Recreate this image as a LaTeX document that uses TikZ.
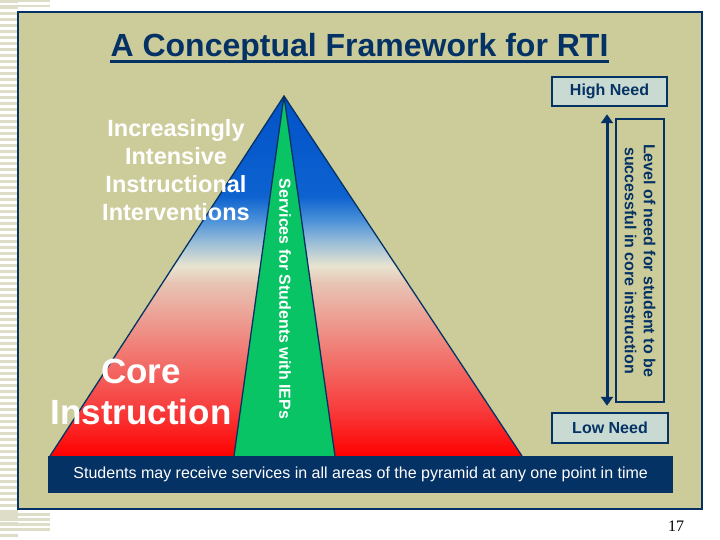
\documentclass[tikz,border=0pt]{standalone}
\usepackage{fontspec}
\setmainfont{Liberation Sans}
\newfontfamily\pagefont{Liberation Serif}
\usetikzlibrary{arrows.meta}
\definecolor{paneltan}{RGB}{204,204,155}
\definecolor{navy}{RGB}{5,50,100}
\definecolor{boxfill}{RGB}{200,218,210}
\definecolor{stripe}{RGB}{222,222,200}
\definecolor{iepgreen}{RGB}{8,196,100}
\definecolor{pA}{RGB}{255,0,0}
\definecolor{pB}{RGB}{248,56,56}
\definecolor{pC}{RGB}{240,128,120}
\definecolor{pD}{RGB}{232,196,180}
\definecolor{pE}{RGB}{232,228,208}
\definecolor{pF}{RGB}{144,184,216}
\definecolor{pG}{RGB}{74,144,216}
\definecolor{pH}{RGB}{13,98,208}
\definecolor{pI}{RGB}{2,82,200}
\pgfdeclareverticalshading{pyrshade}{100bp}{color(0bp)=(pA); color(25bp)=(pA); color(31bp)=(pB); color(40.3bp)=(pC); color(49bp)=(pD); color(51.4bp)=(pE); color(55.1bp)=(pF); color(57.8bp)=(pG); color(61.1bp)=(pH); color(75bp)=(pI); color(100bp)=(pI)}
\tikzset{
  needbox/.style={draw=navy, line width=2.5pt, fill=boxfill, text=navy, font=\fontsize{16}{19}\selectfont\bfseries, minimum width=115pt, minimum height=29pt, inner sep=0pt},
  whitelabel/.style={text=white, align=center, inner sep=0pt},
  outline/.style={draw=navy, line width=1.3pt, line join=round}
}
\begin{document}
\begin{tikzpicture}[x=1pt,y=-1pt]
\useasboundingbox (0,0) rectangle (720,540);
\fill[white] (0,0) rectangle (720,540);
% left stripes
\foreach \yy in {0,6,...,534} {\fill[stripe] (0,\yy) rectangle (18,\yy+3);}
\foreach \yy in {0,5} {\fill[stripe] (0,\yy) rectangle (50,\yy+2.5);}
\foreach \yy in {513,518,523,528} {\fill[stripe] (0,\yy) rectangle (50,\yy+3);}
% panel
\draw[navy, line width=1.3pt, fill=paneltan] (18,12) rectangle (702,509);
% title
\node[text=navy, font=\fontsize{32}{38}\selectfont\bfseries, inner sep=0pt, anchor=base] (title) at (359.5,57) {A Conceptual Framework for RTI};
\draw[navy, line width=2.6pt] ([yshift=-4.8pt]title.base west) -- ([yshift=-4.8pt]title.base east);
% pyramid
\coordinate (apex) at (284,96);
\coordinate (bl) at (50,456);
\coordinate (br) at (522,456);
\coordinate (gl) at (234,456);
\coordinate (gr) at (335,456);
\shade[shading=pyrshade] (apex) -- (bl) -- (br) -- cycle;
\draw[outline] (bl) -- (apex) -- (br);
\fill[iepgreen] (apex) -- (gl) -- (gr) -- cycle;
\draw[outline] (gl) -- (apex) -- (gr);
% pyramid labels
\node[whitelabel, font=\fontsize{23.5}{28}\selectfont\bfseries] (interv) at (176,170) {Increasingly\\Intensive\\Instructional\\Interventions};
\node[whitelabel, font=\fontsize{35}{41}\selectfont\bfseries] (core) at (141,392) {Core\\Instruction};
\node[whitelabel, font=\fontsize{16}{19}\selectfont\bfseries, rotate=-90] (iep) at (285,299) {Services for Students with IEPs};
% banner
\node[fill=navy, text=white, minimum width=625pt, minimum height=37pt, inner sep=0pt, anchor=north west, font=\fontsize{16}{19}\selectfont] (banner) at (48,456) {Students may receive services in all areas of the pyramid at any one point in time};
% need boxes
\node[needbox] (high) at (609.5,91.5) {High Need};
\node[needbox, minimum width=116pt, minimum height=30pt] (low) at (610,428) {Low Need};
\node[draw=navy, line width=2.5pt, rotate=-90, minimum width=283pt, minimum height=48pt, inner sep=0pt, align=center, text=navy, font=\fontsize{16}{19}\selectfont\bfseries] (level) at (640,260.5) {Level of need for student to be\\successful in core instruction};
\draw[navy, line width=3pt, {Triangle[width=12pt,length=9pt]}-{Triangle[width=12pt,length=9pt]}] ([xshift=-2.5pt,yshift=-7pt]high.south) -- ([xshift=-3pt,yshift=6pt]low.north);
% page number
\node[font=\pagefont\fontsize{16}{19}\selectfont, inner sep=0pt] (page) at (676,526) {17};
\end{tikzpicture}
\end{document}
